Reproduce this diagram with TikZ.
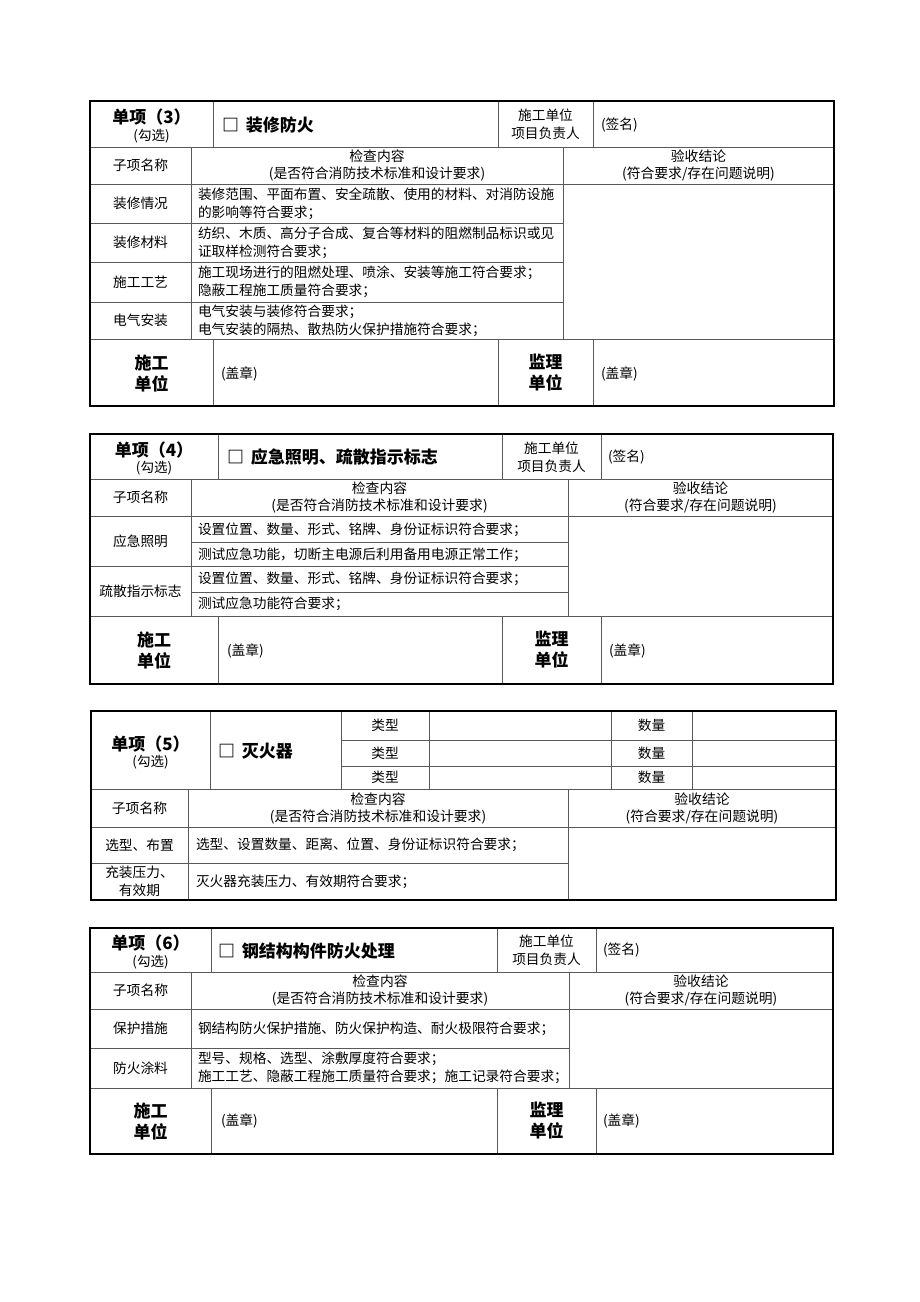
\documentclass[tikz,border=0pt]{standalone}
\usepackage{fontspec}
\setmainfont{Noto Sans CJK SC}
\newcommand{\bx}{□\hspace{7pt}}
\begin{document}
\begin{tikzpicture}[x=1pt,y=-1pt,
  outer/.style={line width=1.8pt,draw=black},
  inner/.style={line width=0.7pt,draw=black!65},
  every node/.style={inner sep=0pt,outer sep=0pt},
  body/.style={font=\fontsize{13.7}{18}\selectfont,align=left},
  bodyc/.style={font=\fontsize{13.7}{18}\selectfont,align=center},
  hdr/.style={font=\fontsize{13.8}{17}\selectfont,align=center},
  big/.style={font=\fontsize{17}{21}\selectfont\bfseries,align=center},
  small/.style={font=\fontsize{13.5}{15}\selectfont}]
\useasboundingbox (0,0) rectangle (920,1302);

% ================= Table (3) =================
\draw[inner] (213,101)--(213,147) (498,101)--(498,147) (593,101)--(593,147);
\draw[inner] (90,147)--(834,147) (90,184)--(834,184);
\draw[inner] (191,147)--(191,339) (563,147)--(563,339);
\draw[inner] (90,223)--(563,223) (90,262)--(563,262) (90,302)--(563,302);
\draw[inner] (90,339)--(834,339);
\draw[inner] (213,339)--(213,406) (498,339)--(498,406) (593,339)--(593,406);
\draw[outer] (90,101) rectangle (834,406);

\node[big] (a1) at (151.5,117) {单项（3）};
\node[small] (a2) at (151.5,136) {(勾选)};
\node[big,anchor=west] (a3) at (222,125) {\bx 装修防火};
\node[bodyc] (a4) at (545.5,124.5) {施工单位\\项目负责人};
\node[body,anchor=west] (a5) at (601,125) {(签名)};
\node[hdr] (a6) at (140.5,165.5) {子项名称};
\node[hdr] (a7) at (377,165.5) {检查内容\\(是否符合消防技术标准和设计要求)};
\node[hdr] (a8) at (698.5,165.5) {验收结论\\(符合要求/存在问题说明)};
\node[bodyc] (a9) at (140.5,203.5) {装修情况};
\node[body,anchor=west] (a10) at (198,203.5) {装修范围、平面布置、安全疏散、使用的材料、对消防设施\\的影响等符合要求；};
\node[bodyc] (a11) at (140.5,242.5) {装修材料};
\node[body,anchor=west] (a12) at (198,242.5) {纺织、木质、高分子合成、复合等材料的阻燃制品标识或见\\证取样检测符合要求；};
\node[bodyc] (a13) at (140.5,282) {施工工艺};
\node[body,anchor=west] (a14) at (198,282) {施工现场进行的阻燃处理、喷涂、安装等施工符合要求；\\隐蔽工程施工质量符合要求；};
\node[bodyc] (a15) at (140.5,320.5) {电气安装};
\node[body,anchor=west] (a16) at (198,320.5) {电气安装与装修符合要求；\\电气安装的隔热、散热防火保护措施符合要求；};
\node[big] (a17) at (151.5,373) {施工\\单位};
\node[body,anchor=west] (a18) at (221,374) {(盖章)};
\node[big] (a19) at (545.5,373) {监理\\单位};
\node[body,anchor=west] (a20) at (601,374) {(盖章)};

% ================= Table (4) =================
\draw[inner] (218,434)--(218,479) (502,434)--(502,479) (601,434)--(601,479);
\draw[inner] (90,479)--(833,479) (90,516)--(833,516);
\draw[inner] (191,479)--(191,616) (568,479)--(568,616);
\draw[inner] (191,542)--(568,542) (90,566)--(568,566) (191,592)--(568,592);
\draw[inner] (90,616)--(833,616);
\draw[inner] (218,616)--(218,684) (502,616)--(502,684) (601,616)--(601,684);
\draw[outer] (90,434) rectangle (833,684);

\node[big] (b1) at (154,450) {单项（4）};
\node[small] (b2) at (154,468) {(勾选)};
\node[big,anchor=west] (b3) at (227,457) {\bx 应急照明、疏散指示标志};
\node[bodyc] (b4) at (551.5,457) {施工单位\\项目负责人};
\node[body,anchor=west] (b5) at (608,457) {(签名)};
\node[hdr] (b6) at (140.5,497.5) {子项名称};
\node[hdr] (b7) at (379.5,497.5) {检查内容\\(是否符合消防技术标准和设计要求)};
\node[hdr] (b8) at (700.5,497.5) {验收结论\\(符合要求/存在问题说明)};
\node[bodyc] (b9) at (140.5,541) {应急照明};
\node[body,anchor=west] (b10) at (198,529.5) {设置位置、数量、形式、铭牌、身份证标识符合要求；};
\node[body,anchor=west] (b11) at (198,554.5) {测试应急功能，切断主电源后利用备用电源正常工作；};
\node[bodyc] (b12) at (140.5,591) {疏散指示标志};
\node[body,anchor=west] (b13) at (198,579) {设置位置、数量、形式、铭牌、身份证标识符合要求；};
\node[body,anchor=west] (b14) at (198,604) {测试应急功能符合要求；};
\node[big] (b15) at (154,650) {施工\\单位};
\node[body,anchor=west] (b16) at (227,651) {(盖章)};
\node[big] (b17) at (551.5,650) {监理\\单位};
\node[body,anchor=west] (b18) at (609,651) {(盖章)};

% ================= Table (5) =================
\draw[inner] (210,711)--(210,789) (341,711)--(341,789) (429,711)--(429,789)
             (611,711)--(611,789) (692,711)--(692,789);
\draw[inner] (341,740)--(836,740) (341,766)--(836,766);
\draw[inner] (91,789)--(836,789) (91,827)--(836,827);
\draw[inner] (188,789)--(188,900) (568,789)--(568,900);
\draw[inner] (91,863)--(568,863);
\draw[outer] (91,711) rectangle (836,900);

\node[big] (c1) at (150.5,744) {单项（5）};
\node[small] (c2) at (150.5,762) {(勾选)};
\node[big,anchor=west] (c3) at (218,751) {\bx 灭火器};
\node[bodyc] (c4) at (385,725.5) {类型};
\node[bodyc] (c5) at (385,753) {类型};
\node[bodyc] (c6) at (385,777.5) {类型};
\node[bodyc] (c7) at (651.5,725.5) {数量};
\node[bodyc] (c8) at (651.5,753) {数量};
\node[bodyc] (c9) at (651.5,777.5) {数量};
\node[hdr] (c10) at (139.5,808) {子项名称};
\node[hdr] (c11) at (378,808) {检查内容\\(是否符合消防技术标准和设计要求)};
\node[hdr] (c12) at (702,808) {验收结论\\(符合要求/存在问题说明)};
\node[bodyc] (c13) at (139.5,845) {选型、布置};
\node[body,anchor=west] (c14) at (196,845) {选型、设置数量、距离、位置、身份证标识符合要求；};
\node[bodyc] (c15) at (139.5,881.5) {充装压力、\\有效期};
\node[body,anchor=west] (c16) at (196,881.5) {灭火器充装压力、有效期符合要求；};

% ================= Table (6) =================
\draw[inner] (211,928)--(211,972) (497,928)--(497,972) (596,928)--(596,972);
\draw[inner] (90,972)--(833,972) (90,1009)--(833,1009);
\draw[inner] (191,972)--(191,1088) (569,972)--(569,1088);
\draw[inner] (90,1048)--(569,1048);
\draw[inner] (90,1088)--(833,1088);
\draw[inner] (211,1088)--(211,1154) (497,1088)--(497,1154) (596,1088)--(596,1154);
\draw[outer] (90,928) rectangle (833,1154);

\node[big] (d1) at (150.5,943) {单项（6）};
\node[small] (d2) at (150.5,962) {(勾选)};
\node[big,anchor=west] (d3) at (218,951) {\bx 钢结构构件防火处理};
\node[bodyc] (d4) at (546.5,950) {施工单位\\项目负责人};
\node[body,anchor=west] (d5) at (603,950) {(签名)};
\node[hdr] (d6) at (140.5,990.5) {子项名称};
\node[hdr] (d7) at (380,990.5) {检查内容\\(是否符合消防技术标准和设计要求)};
\node[hdr] (d8) at (701,990.5) {验收结论\\(符合要求/存在问题说明)};
\node[bodyc] (d9) at (140.5,1028.5) {保护措施};
\node[body,anchor=west] (d10) at (198,1028.5) {钢结构防火保护措施、防火保护构造、耐火极限符合要求；};
\node[bodyc] (d11) at (140.5,1068) {防火涂料};
\node[body,anchor=west] (d12) at (198,1068) {型号、规格、选型、涂敷厚度符合要求；\\施工工艺、隐蔽工程施工质量符合要求；施工记录符合要求；};
\node[big] (d13) at (150.5,1121) {施工\\单位};
\node[body,anchor=west] (d14) at (221,1121) {(盖章)};
\node[big] (d15) at (546.5,1121) {监理\\单位};
\node[body,anchor=west] (d16) at (603,1121) {(盖章)};
\end{tikzpicture}
\end{document}
